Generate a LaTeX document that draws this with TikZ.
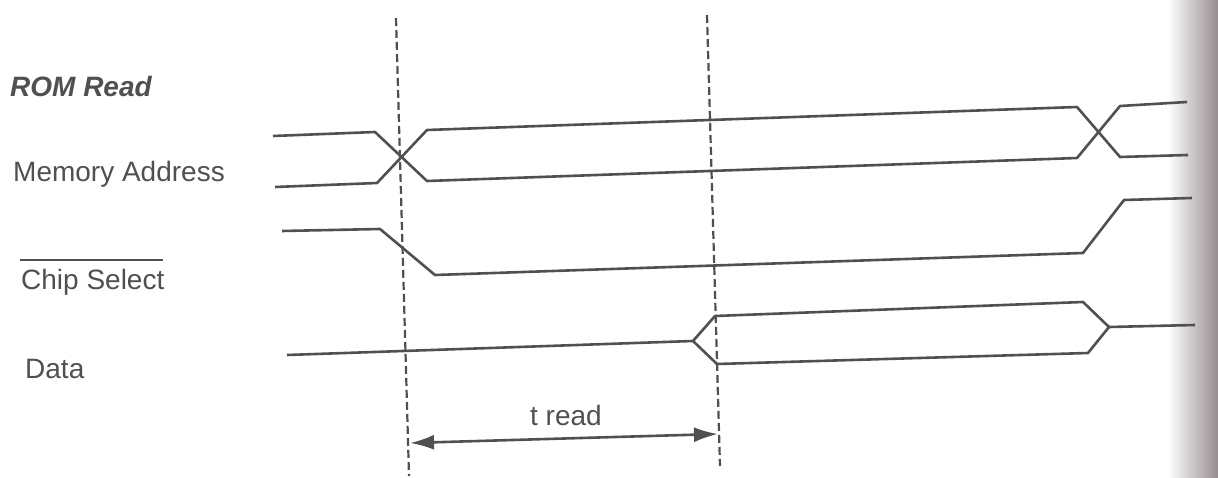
\documentclass[tikz,border=0pt]{standalone}
\usepackage{fontspec}
\setmainfont{Liberation Sans}
\usetikzlibrary{arrows.meta}
\definecolor{ink}{RGB}{80,80,80}
\definecolor{txt}{RGB}{80,80,80}
\definecolor{edge}{RGB}{150,140,145}
\begin{document}
\begin{tikzpicture}[x=1pt,y=-1pt,
  wave/.style={draw=ink,line width=2.6pt,line join=round},
  marker/.style={draw=ink,line width=2.2pt,dash pattern=on 8pt off 4pt},
  lbl/.style={text=txt,font=\fontsize{28}{32}\selectfont,anchor=base west,inner sep=0pt},
  span/.style={draw=ink,line width=2.6pt,{Latex[length=24pt,width=15pt]}-{Latex[length=24pt,width=15pt]}}]
\useasboundingbox (0,0) rectangle (1218,478);
\fill[white] (0,0) rectangle (1218,478);
% darkened page edge on the right
\shade[left color=white,right color=edge] (1168,0) rectangle (1218,478);

% signal names
\node[lbl,font=\fontsize{28}{32}\selectfont\bfseries\itshape] (title) at (10,97) {ROM Read};
\node[lbl] (addr) at (13,182) {Memory Address};
\node[lbl] (cs) at (21,290) {Chip Select};
\draw[txt,line width=1.8pt] ([xshift=-1pt,yshift=30pt]cs.base west) -- ([xshift=-2pt,yshift=30pt]cs.base east);
\node[lbl] (data) at (25,378) {Data};

% timing markers
\coordinate (m1top) at (396,18);
\coordinate (m1bot) at (409,476);
\coordinate (m2top) at (707,15);
\coordinate (m2bot) at (720,466);
\draw[marker] (m1top) -- (m1bot);
\draw[marker] (m2top) -- (m2bot);

% memory address bus
\draw[wave] (273,136) -- (375,132) -- (427,181) -- (1077,158) -- (1120,106) -- (1187,102);
\draw[wave] (275,187) -- (377,183) -- (427,130) -- (1077,107) -- (1120,157) -- (1188,155);

% chip select (active low)
\draw[wave] (282,231) -- (380,229) -- (435,275) -- (1083,253) -- (1124,200) -- (1192,198);

% data bus
\draw[wave] (287,355) -- (693,341) -- (715,316) -- (1083,302) -- (1109,327) -- (1088,353) -- (717,364) -- (693,341);
\draw[wave] (1109,327) -- (1195,325);

% read access time
\coordinate (ta) at (410,443);
\coordinate (tb) at (718,434);
\draw[span] (ta) -- (tb);
\node[lbl] (tread) at (530,425) {t read};
\end{tikzpicture}
\end{document}
